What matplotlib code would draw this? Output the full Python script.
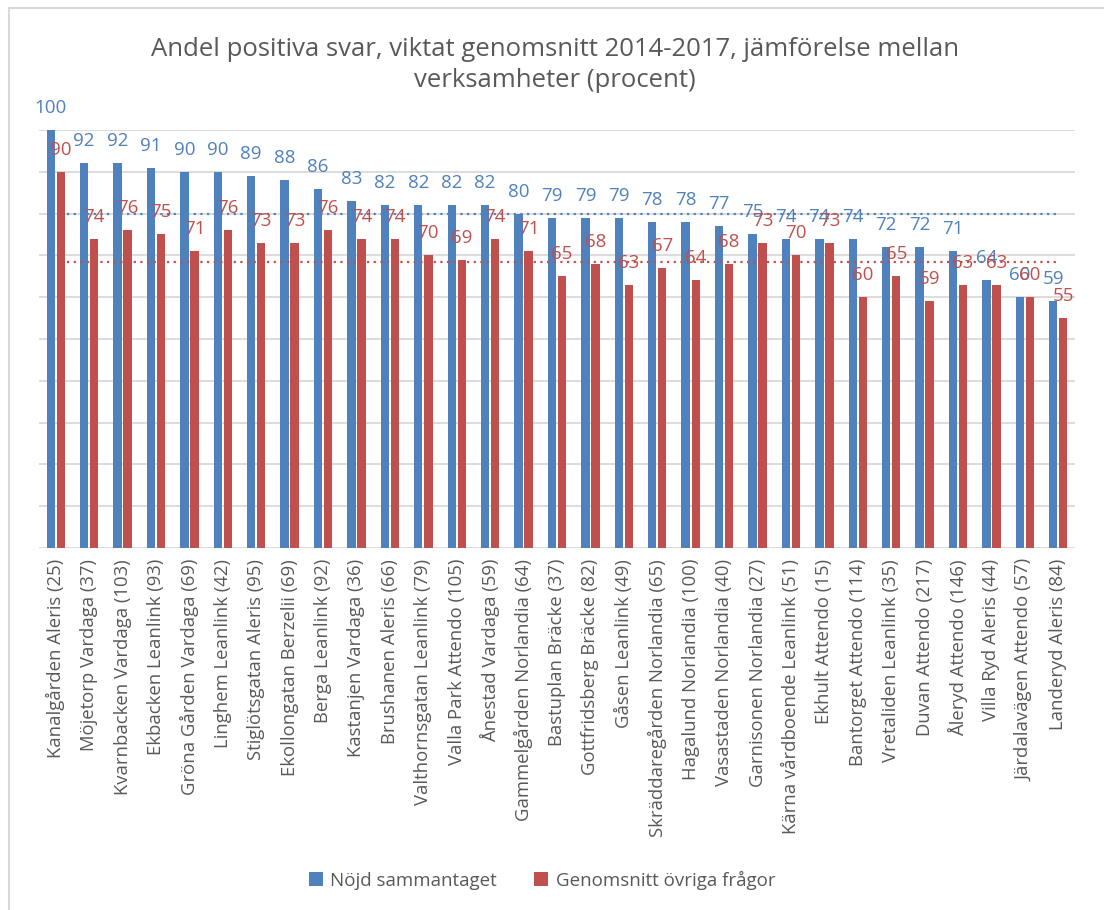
import matplotlib
matplotlib.use("Agg")
import matplotlib.pyplot as plt
import matplotlib.patches as mpatches
import numpy as np

categories = [
    "Kanalgården Aleris (25)", "Möjetorp Vardaga (37)", "Kvarnbacken Vardaga (103)",
    "Ekbacken Leanlink (93)", "Gröna Gården Vardaga (69)", "Linghem Leanlink (42)",
    "Stiglötsgatan Aleris (95)", "Ekollongatan Berzelii (69)", "Berga Leanlink (92)",
    "Kastanjen Vardaga (36)", "Brushanen Aleris (66)", "Valthornsgatan Leanlink (79)",
    "Valla Park Attendo (105)", "Ånestad Vardaga (59)", "Gammelgården Norlandia (64)",
    "Bastuplan Bräcke (37)", "Gottfridsberg Bräcke (82)", "Gåsen Leanlink (49)",
    "Skräddaregården Norlandia (65)", "Hagalund Norlandia (100)", "Vasastaden Norlandia (40)",
    "Garnisonen Norlandia (27)", "Kärna vårdboende Leanlink (51)", "Ekhult Attendo (15)",
    "Bantorget Attendo (114)", "Vretaliden Leanlink (35)", "Duvan Attendo (217)",
    "Åleryd Attendo (146)", "Villa Ryd Aleris (44)", "Järdalavägen Attendo (57)",
    "Landeryd Aleris (84)",
]
nojd = [100, 92, 92, 91, 90, 90, 89, 88, 86, 83, 82, 82, 82, 82, 80, 79, 79, 79,
        78, 78, 77, 75, 74, 74, 74, 72, 72, 71, 64, 60, 59]
ovriga = [90, 74, 76, 75, 71, 76, 73, 73, 76, 74, 74, 70, 69, 74, 71, 65, 68, 63,
          67, 64, 68, 73, 70, 73, 60, 65, 59, 63, 63, 60, 55]
avg_nojd = 80.0
avg_ovriga = 68.4

series_names = ["Nöjd sammantaget", "Genomsnitt övriga frågor"]
title = "Andel positiva svar, viktat genomsnitt 2014-2017, jämförelse mellan\nverksamheter (procent)"

BLUE = "#4f81bd"
RED = "#c0504d"
GRID = "#d9d9d9"
TXT = "#595959"
FONT = "Open Sans"

plt.rcParams["font.family"] = [FONT, "DejaVu Sans"]

W, H = 1104, 910
fig = plt.figure(figsize=(W / 100, H / 100), dpi=100)
left, right, top, bottom = 39, 1075, 130, 548
ax = fig.add_axes([left / W, 1 - bottom / H, (right - left) / W, (bottom - top) / H])

x = np.arange(len(categories))
bw = 0.25
off = 0.15
b1 = ax.bar(x - off, nojd, width=bw, color=BLUE, zorder=3, label=series_names[0])
b2 = ax.bar(x + off, ovriga, width=bw, color=RED, zorder=3, label=series_names[1])

ax.set_xlim(-0.5, len(categories) - 0.5)
ax.set_ylim(0, 100)
ax.set_yticks(np.arange(0, 101, 10))
ax.yaxis.grid(True, color=GRID, linewidth=1.3, zorder=0)
ax.tick_params(axis="y", length=0, labelleft=False)
ax.tick_params(axis="x", length=0, pad=8)
for s in ax.spines.values():
    s.set_visible(False)

ax.set_xticks(x)
ax.set_xticklabels(categories, rotation=90, fontsize=13.3, color=TXT)

# average dotted lines
ax.plot([0.35, 30.05], [avg_nojd, avg_nojd], color=BLUE, lw=1.6,
        linestyle=(0, (1, 2)), zorder=4)
ax.plot([0.35, 30.05], [avg_ovriga, avg_ovriga], color=RED, lw=1.6,
        linestyle=(0, (1, 2)), zorder=4)

for xi, v in zip(x - off, nojd):
    ax.annotate(f"{v}", (xi, v), xytext=(0, 17), textcoords="offset pixels",
                ha="center", va="baseline", color=BLUE, fontsize=13.5,
                annotation_clip=False, zorder=5)
for xi, v in zip(x + off, ovriga):
    ax.annotate(f"{v}", (xi, v), xytext=(0, 17), textcoords="offset pixels",
                ha="center", va="baseline", color=RED, fontsize=13.5,
                annotation_clip=False, zorder=5)

fig.text(555 / W, 1 - 65 / H, title, ha="center", va="center", fontsize=18.5,
         color=TXT, linespacing=1.35)

leg = fig.legend(handles=[b1, b2], loc="center", bbox_to_anchor=(542 / W, 1 - 880 / H),
                 ncol=2, frameon=False, fontsize=13.5, handlelength=0.75,
                 handleheight=0.75, handletextpad=0.4, columnspacing=2.0)
for t in leg.get_texts():
    t.set_color(TXT)

# outer chart frame (cropped screenshot)
fig.patches.append(mpatches.Rectangle((9 / W, -0.1), 1.5, 1 - 8 / H + 0.1,
                                      transform=fig.transFigure, fill=False,
                                      edgecolor=GRID, linewidth=1.5))

fig.savefig("out.png", dpi=100)
